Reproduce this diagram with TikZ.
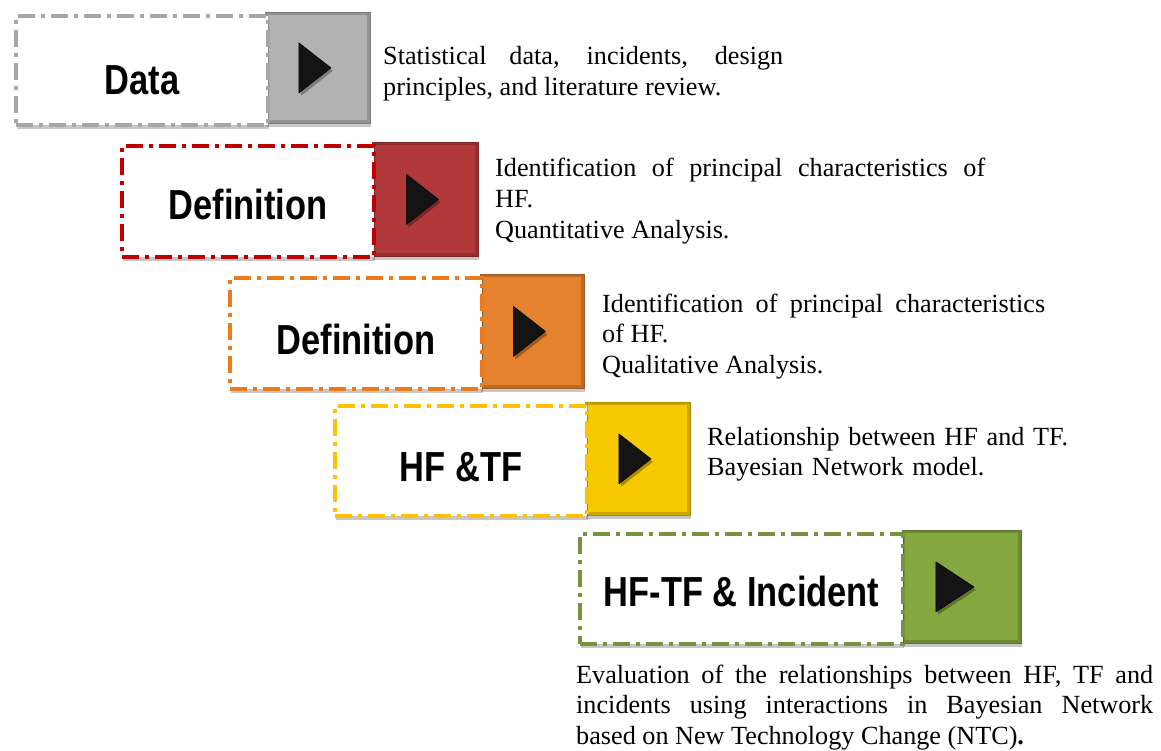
\documentclass[tikz,border=0pt]{standalone}
\usepackage{fontspec}
\setmainfont{Liberation Serif}
\newfontfamily\labelfont[FakeStretch=0.82]{Liberation Sans}
\usetikzlibrary{calc,shadows}
\setlength{\parindent}{0pt}

\definecolor{grayedge}{HTML}{A6A6A6}\definecolor{grayfill}{HTML}{B2B2B2}
\definecolor{rededge}{HTML}{C00000}\definecolor{redfill}{HTML}{B23939}
\definecolor{orangeedge}{HTML}{EC7A1E}\definecolor{orangefill}{HTML}{E4822E}
\definecolor{yellowedge}{HTML}{FFC000}\definecolor{yellowfill}{HTML}{F7CA00}
\definecolor{greenedge}{HTML}{77933C}\definecolor{greenfill}{HTML}{84A83F}

% a label set a little below the middle of its box
\newcommand\lowered[2]{\raisebox{-#1pt}[\height][0pt]{#2}}

\tikzset{
  softshadow/.style={drop shadow={shadow xshift=1pt,shadow yshift=-4pt,opacity=0.22,fill=black}},
  labelbox/.style={rectangle,anchor=north west,inner sep=0pt,fill=white,draw=#1,
    line width=4.3pt,dash pattern=on 17pt off 6pt on 4pt off 6pt,softshadow,
    font=\labelfont\bfseries\fontsize{42}{46}\selectfont},
  tabbox/.style={rectangle,anchor=north west,inner sep=0pt,fill=#1!82!black,
    draw=#1!70!black,line width=0.8pt,softshadow},
  tabface/.style={fill=#1},
  playmark/.style={fill=black!92,draw=black,line width=0.6pt,line join=round,
    drop shadow={shadow xshift=2pt,shadow yshift=-3pt,opacity=0.3,fill=black}},
  desc/.style={anchor=base west,inner sep=0pt,align=justify,
    font=\fontsize{26.2}{30.7}\selectfont},
}

\begin{document}
\begin{tikzpicture}[x=1pt,y=-1pt]
\useasboundingbox (0,0) rectangle (1161,751);
\fill[white] (0,0) rectangle (1161,751);

% step 1: data
\node[tabbox=grayfill,minimum width=105pt,minimum height=111pt] (c1) at (265,12) {};
\fill[tabface=grayfill] ($(c1.north west)+(3,3)$) rectangle ($(c1.south east)+(-4,-4)$);
\node[labelbox=grayedge,minimum width=252pt,minimum height=109pt] (w1) at (14,14) {\lowered{9}{Data}};
\path[playmark] ($(c1.center)+(-19,-25)$) -- ($(c1.center)+(13,0)$) -- ($(c1.center)+(-19,25)$) -- cycle;
\node[desc,text width=400pt] (d1) at (383,65)
  {Statistical data, incidents, design\linebreak principles, and literature review.};

% step 2: quantitative definition
\node[tabbox=redfill,minimum width=106pt,minimum height=114pt] (c2) at (372,142) {};
\fill[tabface=redfill] ($(c2.north west)+(3,3)$) rectangle ($(c2.south east)+(-4,-4)$);
\node[labelbox=rededge,minimum width=252pt,minimum height=111pt] (w2) at (120,144) {\lowered{3}{Definition}};
\path[playmark] ($(c2.center)+(-19,-25)$) -- ($(c2.center)+(13,0)$) -- ($(c2.center)+(-19,25)$) -- cycle;
\node[desc,text width=490pt] (d2) at (495,177)
  {Identification of principal characteristics of\linebreak HF.\par Quantitative Analysis.};

% step 3: qualitative definition
\node[tabbox=orangefill,minimum width=104pt,minimum height=114pt] (c3) at (480,274) {};
\fill[tabface=orangefill] ($(c3.north west)+(3,3)$) rectangle ($(c3.south east)+(-4,-4)$);
\node[labelbox=orangeedge,minimum width=252pt,minimum height=111pt] (w3) at (228,276) {\lowered{6}{Definition}};
\path[playmark] ($(c3.center)+(-19,-25)$) -- ($(c3.center)+(13,0)$) -- ($(c3.center)+(-19,25)$) -- cycle;
\node[desc,text width=443pt] (d3) at (602,312)
  {Identification of principal characteristics\linebreak of HF.\par Qualitative Analysis.};

% step 4: HF and TF
\node[tabbox=yellowfill,minimum width=105pt,minimum height=113pt] (c4) at (585,402) {};
\fill[tabface=yellowfill] ($(c4.north west)+(3,3)$) rectangle ($(c4.south east)+(-4,-4)$);
\node[labelbox=yellowedge,minimum width=252pt,minimum height=110pt] (w4) at (333,404) {\lowered{6}{HF \&TF}};
\path[playmark] ($(c4.center)+(-19,-25)$) -- ($(c4.center)+(13,0)$) -- ($(c4.center)+(-19,25)$) -- cycle;
\node[desc,text width=440pt,align=left] (d4) at (707,445)
  {Relationship between HF and TF.\par Bayesian Network model.};

% step 5: HF-TF and incidents
\node[tabbox=greenfill,minimum width=119pt,minimum height=113pt] (c5) at (902,530) {};
\fill[tabface=greenfill] ($(c5.north west)+(3,3)$) rectangle ($(c5.south east)+(-4,-4)$);
\node[labelbox=greenedge,minimum width=323pt,minimum height=110pt] (w5) at (578,532) {\lowered{2}{HF-TF \& Incident}};
\path[playmark] ($(c5.center)+(-26,-25)$) -- ($(c5.center)+(12,0)$) -- ($(c5.center)+(-26,25)$) -- cycle;
\node[desc,text width=577pt] (d5) at (576,683)
  {Evaluation of the relationships between HF, TF and\linebreak incidents using interactions in Bayesian Network\linebreak based on New Technology Change (NTC)\textbf{.}};
\end{tikzpicture}
\end{document}
